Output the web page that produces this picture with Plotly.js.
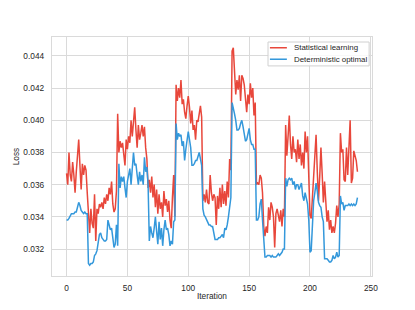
<!DOCTYPE html>
<html>
<head>
<meta charset="utf-8">
<script src="https://cdn.plot.ly/plotly-3.0.1.min.js"></script>
<style>html,body{margin:0;padding:0;background:#fff;}#chart{width:415px;height:310px;}</style>
</head>
<body>
<div id="chart"></div>
<script>
const seriesNames = ["Statistical learning", "Deterministic optimal"];
const seriesColors = ["#e8473b", "#3498db"];

const statisticalLearning = [
0.0367,0.0360,0.0380,0.0366,0.0362,0.0374,0.0366,0.0355,0.0368,0.0378,
0.0388,0.0372,0.0357,0.0373,0.0366,0.0372,0.0369,0.0355,0.0341,0.0330,
0.0345,0.0336,0.0333,0.0354,0.0325,0.0345,0.0342,0.0348,0.0346,0.0349,
0.0345,0.0352,0.0348,0.0354,0.0350,0.0358,0.0354,0.0362,0.0348,0.0343,
0.0345,0.0356,0.0404,0.0380,0.0387,0.0383,0.0386,0.0378,0.0372,0.0388,
0.0382,0.0390,0.0386,0.0400,0.0390,0.0399,0.0408,0.0394,0.0383,0.0397,
0.0388,0.0392,0.0397,0.0390,0.0396,0.0383,0.0376,0.0358,0.0363,0.0355,
0.0365,0.0352,0.0360,0.0346,0.0357,0.0342,0.0354,0.0345,0.0349,0.0340,
0.0356,0.0347,0.0351,0.0343,0.0350,0.0338,0.0333,0.0352,0.0366,0.0340,
0.0422,0.0412,0.0420,0.0414,0.0425,0.0410,0.0413,0.0405,0.0401,0.0409,
0.0415,0.0408,0.0398,0.0406,0.0394,0.0397,0.0388,0.0400,0.0399,0.0404,
0.0409,0.0402,0.0350,0.0354,0.0349,0.0357,0.0349,0.0348,0.0366,0.0355,
0.0350,0.0354,0.0352,0.0335,0.0353,0.0345,0.0358,0.0346,0.0360,0.0348,
0.0356,0.0347,0.0362,0.0352,0.0376,0.0369,0.0443,0.0445,0.0430,0.0416,
0.0425,0.0419,0.0428,0.0412,0.0428,0.0426,0.0422,0.0410,0.0405,0.0416,
0.0410,0.0423,0.0414,0.0420,0.0403,0.0411,0.0360,0.0361,0.0360,0.0366,
0.0364,0.0355,0.0334,0.0328,0.0334,0.0330,0.0346,0.0338,0.0349,0.0346,
0.0340,0.0321,0.0342,0.0345,0.0340,0.0337,0.0344,0.0334,0.0345,0.0340,
0.0397,0.0378,0.0390,0.0403,0.0385,0.0376,0.0390,0.0380,0.0382,0.0374,
0.0388,0.0376,0.0385,0.0372,0.0380,0.0370,0.0393,0.0380,0.0390,0.0366,
0.0341,0.0339,0.0352,0.0360,0.0378,0.0391,0.0368,0.0350,0.0365,0.0383,
0.0367,0.0349,0.0362,0.0347,0.0337,0.0344,0.0332,0.0338,0.0330,0.0334,
0.0330,0.0336,0.0347,0.0340,0.0348,0.0392,0.0380,0.0382,0.0363,0.0362,
0.0383,0.0366,0.0389,0.0400,0.0361,0.0364,0.0381,0.0378,0.0375,0.0368
];

const deterministicOptimal = [
0.0338,0.0338,0.0339,0.0341,0.0342,0.0342,0.0342,0.0343,0.0343,0.0346,
0.0349,0.0347,0.0344,0.0343,0.0342,0.0343,0.0342,0.0342,0.0311,0.0310,
0.0311,0.0311,0.0312,0.0316,0.0317,0.0319,0.0323,0.0329,0.0330,0.0327,
0.0326,0.0325,0.0325,0.0326,0.0338,0.0335,0.0332,0.0333,0.0325,0.0321,
0.0323,0.0335,0.0322,0.0373,0.0358,0.0365,0.0362,0.0365,0.0358,0.0352,
0.0362,0.0366,0.0370,0.0360,0.0371,0.0380,0.0372,0.0373,0.0366,0.0360,
0.0368,0.0362,0.0366,0.0360,0.0377,0.0368,0.0371,0.0360,0.0325,0.0334,
0.0330,0.0327,0.0333,0.0340,0.0331,0.0323,0.0337,0.0326,0.0333,0.0322,
0.0332,0.0338,0.0332,0.0333,0.0329,0.0322,0.0325,0.0323,0.0337,0.0338,
0.0398,0.0388,0.0392,0.0390,0.0391,0.0384,0.0387,0.0375,0.0382,0.0389,
0.0393,0.0388,0.0383,0.0372,0.0372,0.0373,0.0375,0.0375,0.0378,0.0380,
0.0376,0.0372,0.0345,0.0341,0.0340,0.0338,0.0337,0.0335,0.0335,0.0334,
0.0334,0.0330,0.0326,0.0326,0.0326,0.0327,0.0327,0.0328,0.0329,0.0327,
0.0333,0.0332,0.0335,0.0340,0.0346,0.0352,0.0411,0.0408,0.0404,0.0400,
0.0394,0.0394,0.0395,0.0398,0.0400,0.0396,0.0392,0.0387,0.0388,0.0393,
0.0395,0.0388,0.0385,0.0385,0.0382,0.0382,0.0338,0.0338,0.0340,0.0348,
0.0351,0.0338,0.0326,0.0315,0.0315,0.0316,0.0316,0.0316,0.0315,0.0316,
0.0315,0.0315,0.0315,0.0316,0.0317,0.0316,0.0317,0.0318,0.0320,0.0320,
0.0364,0.0359,0.0363,0.0364,0.0363,0.0364,0.0360,0.0362,0.0357,0.0360,
0.0360,0.0357,0.0359,0.0361,0.0353,0.0350,0.0355,0.0352,0.0348,0.0338,
0.0318,0.0319,0.0336,0.0350,0.0355,0.0361,0.0356,0.0349,0.0347,0.0346,
0.0340,0.0337,0.0314,0.0314,0.0314,0.0313,0.0312,0.0312,0.0313,0.0316,
0.0314,0.0315,0.0318,0.0315,0.0316,0.0353,0.0348,0.0349,0.0344,0.0347,
0.0347,0.0347,0.0348,0.0347,0.0348,0.0347,0.0348,0.0347,0.0348,0.0352
];

const xTicks = [0, 50, 100, 150, 200, 250];
const yTicks = [0.032, 0.034, 0.036, 0.038, 0.040, 0.042, 0.044];
const yTickLabels = ["0.032", "0.034", "0.036", "0.038", "0.040", "0.042", "0.044"];

const iterations = statisticalLearning.map((_, i) => i);
const allSeries = [statisticalLearning, deterministicOptimal];

const traces = allSeries.map((ys, k) => ({
  type: "scatter",
  mode: "lines",
  x: iterations,
  y: ys,
  name: seriesNames[k],
  showlegend: false,
  line: {color: seriesColors[k], width: 1.5}
}));

const font = {family: "Liberation Sans, Arial, sans-serif", size: 8.3, color: "#262626"};
const gridColor = "#dadada";

// compact matplotlib-style legend (paper coordinates)
const legendBox = {x0: 0.675, x1: 0.991, y0: 0.879, y1: 0.979};
const legendRows = [0.955, 0.907];
const shapes = [{
  type: "rect", xref: "paper", yref: "paper", layer: "above",
  x0: legendBox.x0, x1: legendBox.x1, y0: legendBox.y0, y1: legendBox.y1,
  line: {color: "#d0d0d0", width: 1}, fillcolor: "rgba(255,255,255,0.8)"
}];
const annotations = [];
seriesNames.forEach((name, k) => {
  shapes.push({
    type: "line", xref: "paper", yref: "paper", layer: "above",
    x0: 0.681, x1: 0.734, y0: legendRows[k], y1: legendRows[k],
    line: {color: seriesColors[k], width: 1.5}
  });
  annotations.push({
    xref: "paper", yref: "paper", x: 0.752, y: legendRows[k],
    xanchor: "left", yanchor: "middle", showarrow: false, borderpad: 0,
    text: name, font: {family: font.family, size: 7.9, color: "#262626"}
  });
});

const layout = {
  width: 415, height: 310,
  margin: {l: 52, r: 43, t: 37, b: 34, pad: 0},
  paper_bgcolor: "#ffffff",
  plot_bgcolor: "#ffffff",
  font: font,
  showlegend: false,
  xaxis: {
    range: [-11.95, 250.95],
    tickvals: xTicks,
    ticktext: xTicks.map(String),
    showgrid: true, gridcolor: gridColor, gridwidth: 1,
    zeroline: false,
    showline: true, mirror: true, linecolor: gridColor, linewidth: 1.2,
    ticks: "", ticklabelstandoff: 4,
    title: {text: "Iteration", font: font, standoff: 1}
  },
  yaxis: {
    range: [0.030325, 0.045175],
    tickvals: yTicks,
    ticktext: yTickLabels,
    showgrid: true, gridcolor: gridColor, gridwidth: 1,
    zeroline: false,
    showline: true, mirror: true, linecolor: gridColor, linewidth: 1.2,
    ticks: "", ticklabelstandoff: 5,
    title: {text: "Loss", font: font, standoff: 2}
  },
  shapes: shapes,
  annotations: annotations
};

Plotly.newPlot("chart", traces, layout, {displayModeBar: false, staticPlot: true});
</script>
</body>
</html>
